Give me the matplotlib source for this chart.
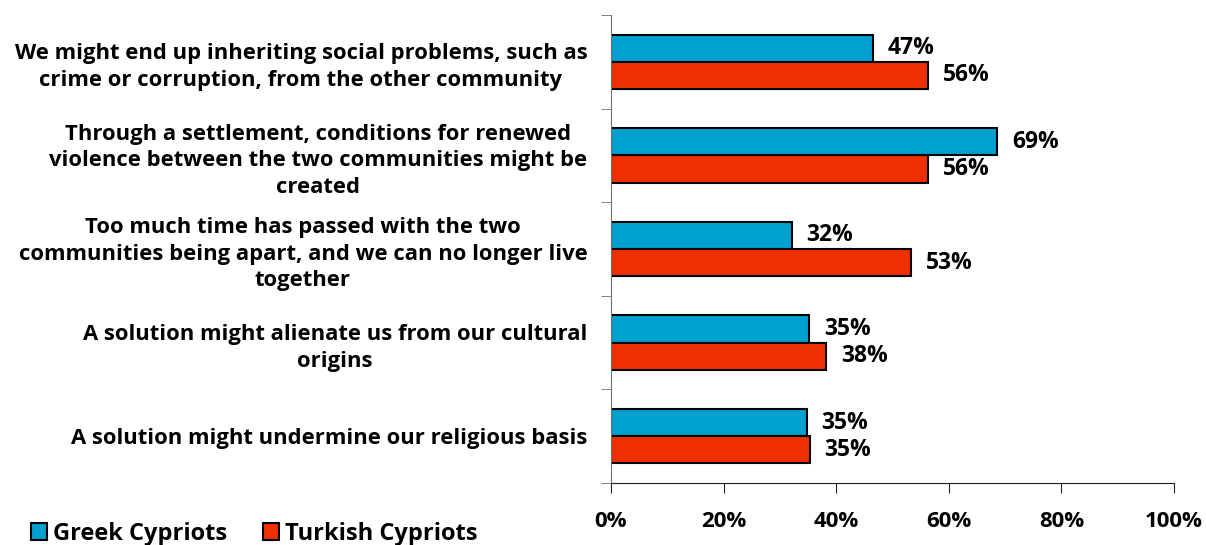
import matplotlib.pyplot as plt
import numpy as np

categories = [
    'We might end up inheriting social problems, such as\ncrime or corruption, from the other community',
    'Through a settlement, conditions for renewed\nviolence between the two communities might be\ncreated',
    'Too much time has passed with the two\ncommunities being apart, and we can no longer live\ntogether',
    'A solution might alienate us from our cultural\norigins',
    'A solution might undermine our religious basis',
]
greek = [46.5, 68.6, 32.1, 35.2, 34.8]
turkish = [56.3, 56.3, 53.3, 38.2, 35.3]
greek_labels = ['47%', '69%', '32%', '35%', '35%']
turkish_labels = ['56%', '56%', '53%', '38%', '35%']

blue = '#00A0D0'
red = '#EE3000'

fig = plt.figure(figsize=(12.06, 5.45), dpi=100)
ax = fig.add_axes([0.5066, 0.1138, 0.4669, 0.8587])

y = np.arange(len(categories))
h = 0.29
ax.barh(y - h / 2, greek, height=h, color=blue, edgecolor='black', linewidth=1.5, label='Greek Cypriots')
ax.barh(y + h / 2, turkish, height=h, color=red, edgecolor='black', linewidth=1.5, label='Turkish Cypriots')

for i in range(len(categories)):
    ax.text(greek[i] + 2.6, y[i] - h / 2, greek_labels[i], va='center', ha='left',
            fontsize=16.5, fontweight='bold', family='Open Sans')
    ax.text(turkish[i] + 2.6, y[i] + h / 2, turkish_labels[i], va='center', ha='left',
            fontsize=16.5, fontweight='bold', family='Open Sans')

ax.set_xlim(0, 100)
ax.set_ylim(len(categories) - 0.5, -0.5)
ax.set_xticks([0, 20, 40, 60, 80, 100])
ax.set_xticklabels(['0%', '20%', '40%', '60%', '80%', '100%'], fontsize=16, fontweight='bold', family='Open Sans')
ax.set_yticks(y)
ax.set_yticklabels(categories, fontsize=15.8, fontweight='bold', family='Open Sans')
for lab in ax.get_yticklabels():
    lab.set_multialignment('center')
    lab.set_linespacing(1.35)
ax.set_yticks(np.arange(len(categories) + 1) - 0.5, minor=True)
ax.tick_params(axis='y', which='major', length=0, pad=17)
ax.tick_params(axis='y', which='minor', length=7, direction='out', color='#707070')
ax.tick_params(axis='x', length=7, direction='out', color='#202020', pad=13)

for s in ['top', 'right']:
    ax.spines[s].set_visible(False)
ax.spines['left'].set_color('#707070')
ax.spines['bottom'].set_color('#202020')

fig.legend(loc='lower left', bbox_to_anchor=(0.008, -0.04), ncol=2, frameon=False,
           prop={'family': 'Open Sans', 'weight': 'bold', 'size': 17},
           handlelength=0.7, handleheight=0.7, handletextpad=0.25, columnspacing=1.5)

fig.savefig('out.png', dpi=100)
